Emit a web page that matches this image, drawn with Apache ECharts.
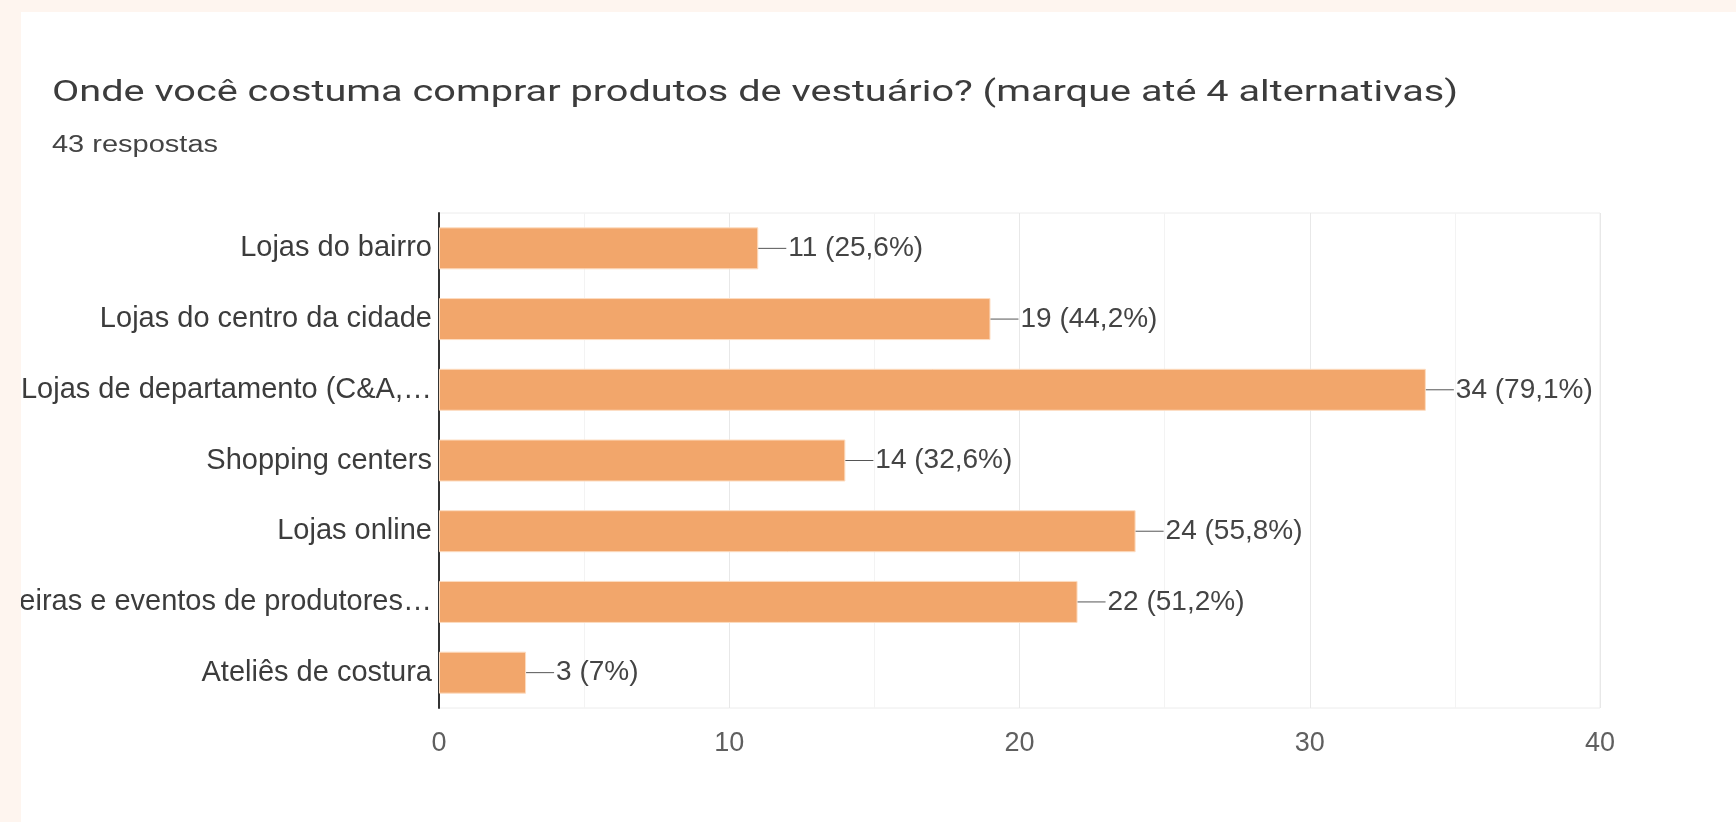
<!DOCTYPE html>
<html>
<head>
<meta charset="utf-8">
<script src="https://cdn.jsdelivr.net/npm/echarts@6/dist/echarts.min.js"></script>
<style>
  html, body { margin: 0; padding: 0; width: 1736px; height: 822px; background: #fef5ef; overflow: hidden; }
  #card { position: absolute; left: 21px; top: 12px; width: 1715px; height: 810px; background: #ffffff; }
</style>
</head>
<body>
<div id="card"></div>
<script>
const titleText = 'Onde você costuma comprar produtos de vestuário? (marque até 4 alternativas)';
const subtitleText = '43 respostas';
const categories = [
  'Lojas do bairro',
  'Lojas do centro da cidade',
  'Lojas de departamento (C&A,…',
  'Shopping centers',
  'Lojas online',
  'Feiras e eventos de produtores…',
  'Ateliês de costura'
];
const counts = [11, 19, 34, 14, 24, 22, 3];
const percents = ['25,6', '44,2', '79,1', '32,6', '55,8', '51,2', '7'];
const xTicks = [0, 10, 20, 30, 40];

function measure(text, font) {
  const c = document.createElement('canvas').getContext('2d');
  c.font = font;
  return c.measureText(text).width;
}
const titleFont = '29px Roboto';
const subFont = '23px "Liberation Sans"';
const titleScale = 1406 / measure(titleText, titleFont);
const subScale = 166 / measure(subtitleText, subFont);

const chart = echarts.init(document.getElementById('card'), null, { renderer: 'canvas' });
chart.setOption({
  animation: false,
  backgroundColor: '#ffffff',
  graphic: [
    {
      type: 'text', x: 31, y: 82, scaleX: titleScale, originX: 0,
      style: { text: titleText, font: titleFont, fill: '#3c3c3c', textAlign: 'left', textVerticalAlign: 'middle' }
    },
    {
      type: 'text', x: 31, y: 134, scaleX: subScale, originX: 0,
      style: { text: subtitleText, font: subFont, fill: '#444444', textAlign: 'left', textVerticalAlign: 'middle' }
    }
  ],
  grid: {
    left: 418, top: 201, right: 136, bottom: 114,
    outerBoundsMode: 'none', containLabel: false,
    show: true, borderColor: '#ececec', borderWidth: 1, backgroundColor: '#ffffff'
  },
  xAxis: {
    type: 'value', min: xTicks[0], max: xTicks[xTicks.length - 1], interval: 10,
    axisLine: { show: false }, axisTick: { show: false },
    axisLabel: { fontFamily: 'Liberation Sans', fontSize: 27, color: '#5f5f5f', margin: 22 },
    splitLine: { show: true, lineStyle: { color: '#e8e8e8', width: 1 } },
    minorTick: { show: false, splitNumber: 2 },
    minorSplitLine: { show: true, lineStyle: { color: '#f3f3f3', width: 1 } }
  },
  yAxis: {
    type: 'category', inverse: true, data: categories,
    axisLine: { show: true, lineStyle: { color: '#333333', width: 2 } },
    axisTick: { show: false },
    axisLabel: { fontFamily: 'Liberation Sans', fontSize: 29, color: '#3c3c3c', margin: 7 }
  },
  series: [{
    type: 'bar', data: counts, barWidth: 42,
    itemStyle: { color: '#f2a66b', borderColor: '#fddcc0', borderWidth: 1 },
    label: {
      show: true, position: 'right', distance: 0,
      formatter: p => '{l| }{t|' + counts[p.dataIndex] + ' (' + percents[p.dataIndex] + '%)}',
      rich: {
        l: { width: 28, height: 1, backgroundColor: '#555555', verticalAlign: 'middle' },
        t: { fontFamily: 'Liberation Sans', fontSize: 28, color: '#444444', padding: [0, 0, 0, 2], verticalAlign: 'middle' }
      }
    }
  }]
});
</script>
</body>
</html>
